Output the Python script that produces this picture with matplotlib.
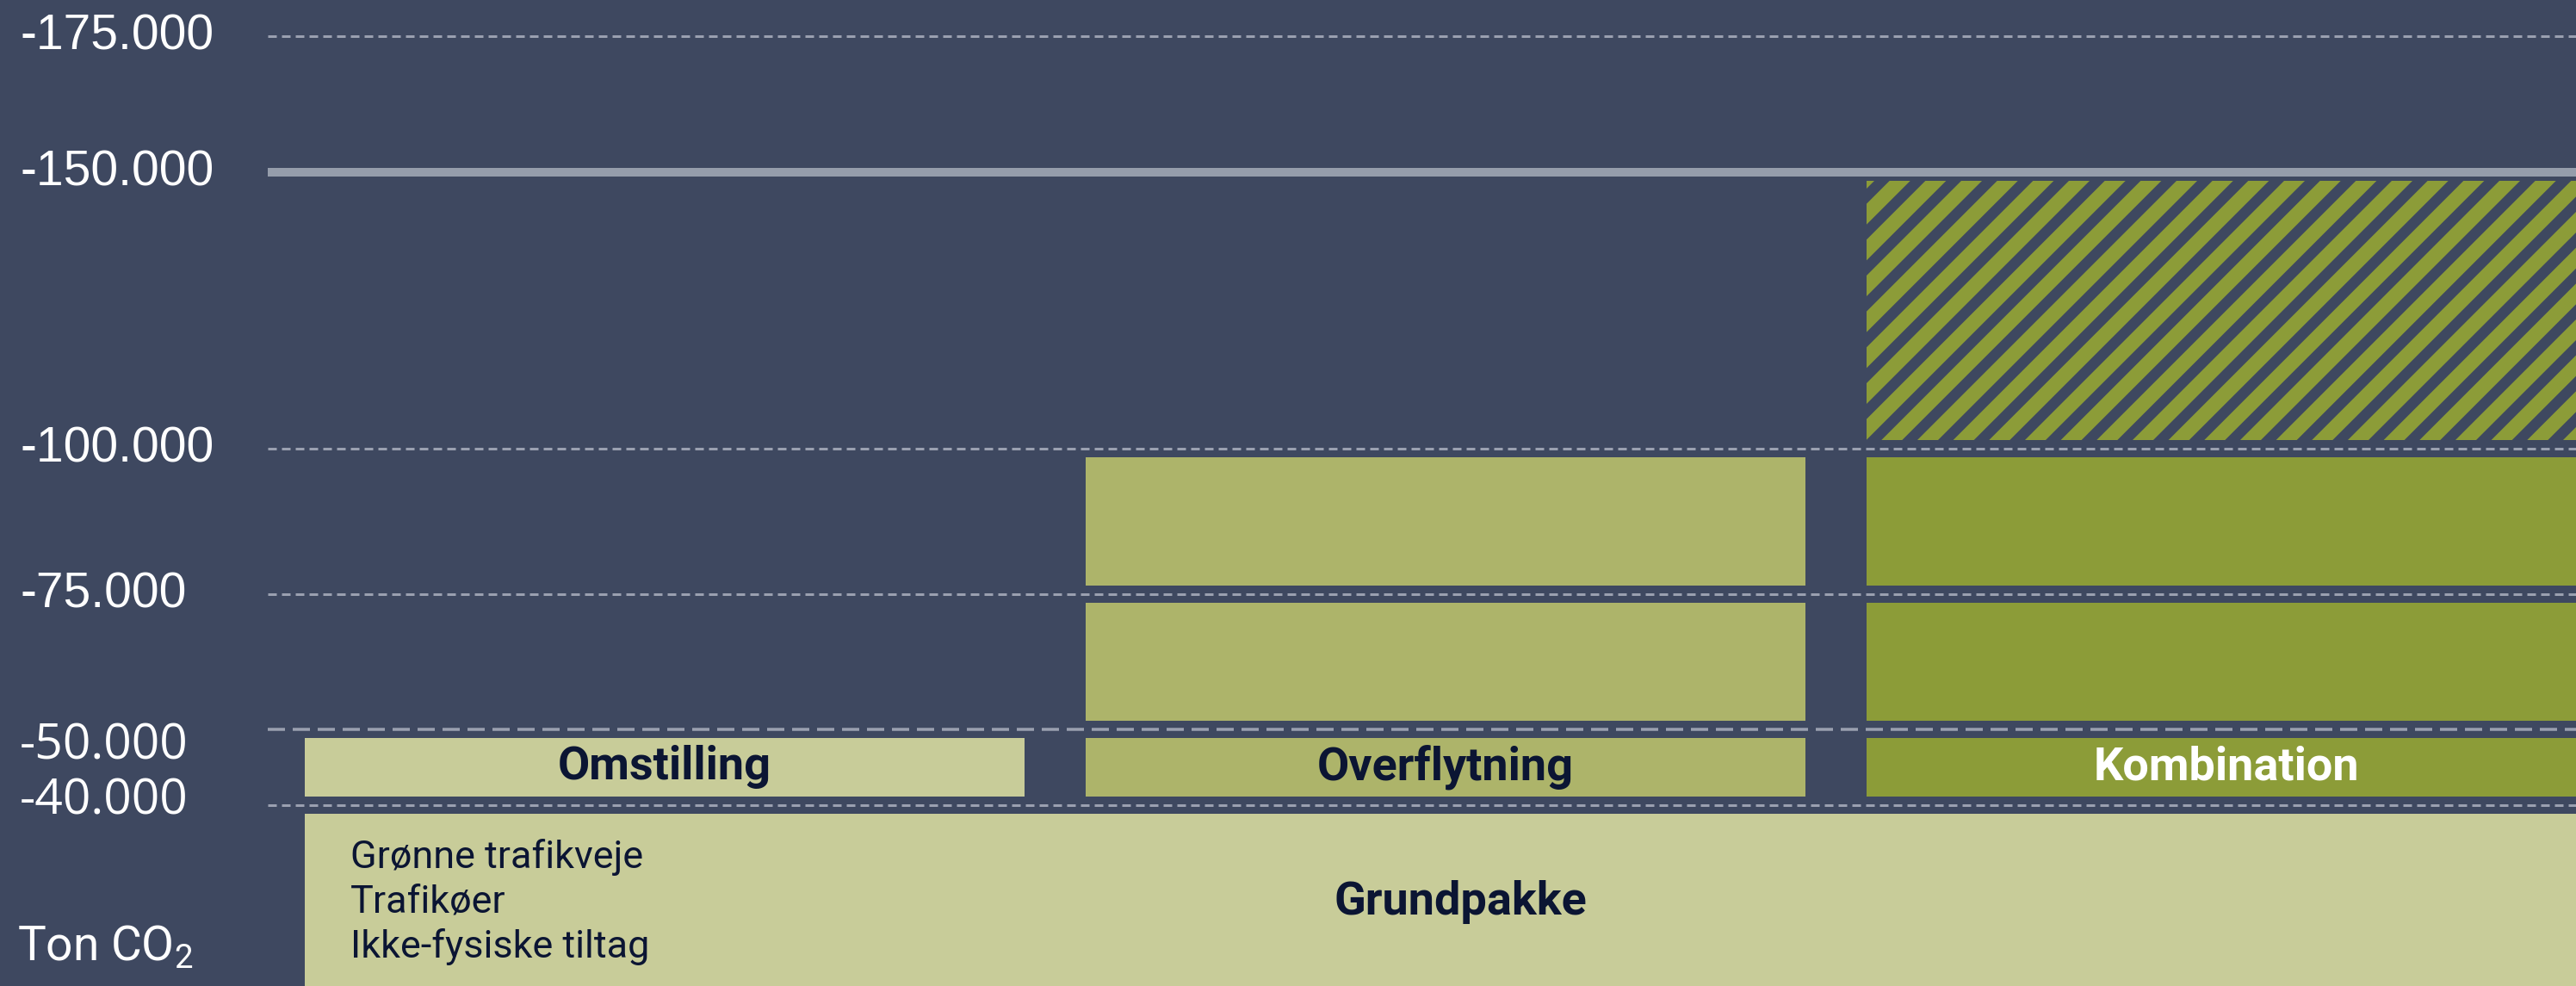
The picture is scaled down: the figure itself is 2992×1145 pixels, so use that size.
import numpy as np
import matplotlib
matplotlib.use("Agg")
import matplotlib.pyplot as plt
from matplotlib import transforms

# y axis ticks (ton CO2, reductions are negative)
tick_values = [-175000, -150000, -100000, -75000, -50000, -40000]
tick_labels = ["-175.000", "-150.000", "-100.000", "-75.000", "-50.000", "-40.000"]

# the three scenarios stacked on top of the base package
scenarios = ["Omstilling", "Overflytning", "Kombination"]
scenario_steps = [[-10000], [-10000, -25000, -25000], [-10000, -25000, -25000]]
scenario_colors = ["#c8cc99", "#adb46a", "#8c9c38"]
scenario_text_colors = ["#0b1533", "#0b1533", "#ffffff"]

base_name = "Grundpakke"
base_value = -40000
base_items = ["Grønne trafikveje", "Trafikøer", "Ikke-fysiske tiltag"]

# extra (hatched) potential on top of Kombination, up to the target
potential_scenario = "Kombination"
potential_extra = -50000
target = -150000

unit_label = "Ton CO$_{\\mathregular{2}}$"

# the chart is schematic: piecewise axis (value -> pixel from top)
scale_vals = [-181600, -175000, -150000, -100000, -75000, -50000, -40000, 0]
scale_px = [0, 42, 200, 521, 690, 847, 935, 1160]

W, H, DPI = 2992, 1145, 250
BG = "#3e4860"
DARK = "#0b1533"
GRID = "#9aa0b0"


def px2pt(px):
    return px * 72 / DPI


def fwd(v):
    return np.interp(v, scale_vals, scale_px)


def inv(p):
    return np.interp(p, scale_px, scale_vals)


plt.rcParams["hatch.linewidth"] = px2pt(17)
plt.rcParams["hatch.color"] = scenario_colors[2]
plt.rcParams["lines.scale_dashes"] = False

fig = plt.figure(figsize=(W / DPI, H / DPI), dpi=DPI, facecolor=BG)
ax = fig.add_axes([311 / W, -15 / H, 1 - 311 / W, 1160 / H])
ax.set_facecolor(BG)
ax.set_yscale("function", functions=(fwd, inv))
ax.set_ylim(0, scale_vals[0])
ax.set_xlim(-0.508, 2.448)
ax.set_xticks([])
ax.set_yticks([])
for s in ax.spines.values():
    s.set_visible(False)

gap_lw = px2pt(20)
bar_w = 0.944
x = np.arange(len(scenarios))
bold_size = px2pt(54)

# base package, spanning all scenarios
grund_w = 2 + bar_w
ax.bar(1, base_value, bottom=0, width=grund_w, color=scenario_colors[0],
       edgecolor=BG, linewidth=gap_lw, zorder=2)
ax.text(1.02, base_value / 2, base_name, ha="center", va="center", fontsize=bold_size,
        fontweight="bold", family="Roboto", color=DARK, zorder=5)
ax.text(1 - grund_w / 2 + 0.07, base_value / 2, "\n".join(base_items), ha="left", va="center",
        fontsize=px2pt(45), family="Roboto", color=DARK, linespacing=1.27, zorder=5)

# scenario stacks
for i, steps in enumerate(scenario_steps):
    bottom = base_value
    for h in steps:
        ax.bar(x[i], h, bottom=bottom, width=bar_w, color=scenario_colors[i],
               edgecolor=BG, linewidth=gap_lw, zorder=2)
        bottom += h
    ax.text(x[i], base_value + steps[0] / 2, scenarios[i], ha="center", va="center",
            fontsize=bold_size, fontweight="bold", family="Roboto",
            color=scenario_text_colors[i], zorder=5)

# hatched potential
k = scenarios.index(potential_scenario)
top_k = base_value + sum(scenario_steps[k])
ax.bar(x[k], potential_extra, bottom=top_k, width=bar_w, color="none",
       edgecolor=scenario_colors[k], linewidth=0, hatch="//", zorder=2)
ax.bar(x[k], potential_extra, bottom=top_k, width=bar_w, color="none",
       edgecolor=BG, linewidth=gap_lw, zorder=2.5)

# grid lines + target line
for v in tick_values:
    if v == target:
        ax.axhline(v, color="#959dab", lw=px2pt(10), zorder=4)
    elif v == -50000:
        ax.axhline(v, color=GRID, lw=px2pt(3.5), dashes=(px2pt(20), px2pt(9)), zorder=3)
    else:
        ax.axhline(v, color=GRID, lw=px2pt(3), dashes=(px2pt(10), px2pt(6)), zorder=3)

# y labels (left aligned, two crowded ones nudged apart)
label_nudge_px = {-50000: 20, -40000: -4}
label_fonts = {-50000: "Open Sans", -40000: "Open Sans"}
ytrans = transforms.blended_transform_factory(fig.transFigure, ax.transData)
for v, lab in zip(tick_values, tick_labels):
    off = transforms.ScaledTranslation(0, -label_nudge_px.get(v, 0) / DPI, fig.dpi_scale_trans)
    ax.text(23 / W, v, lab, transform=ytrans + off, ha="left", va="center",
            fontsize=px2pt(57), color="white",
            family=label_fonts.get(v, "Liberation Sans"))

fig.text(20 / W, 30 / H, unit_label, ha="left", va="baseline", fontsize=px2pt(55),
         color="white", family="Roboto")

fig.savefig("out.png", dpi=DPI, facecolor=BG)
